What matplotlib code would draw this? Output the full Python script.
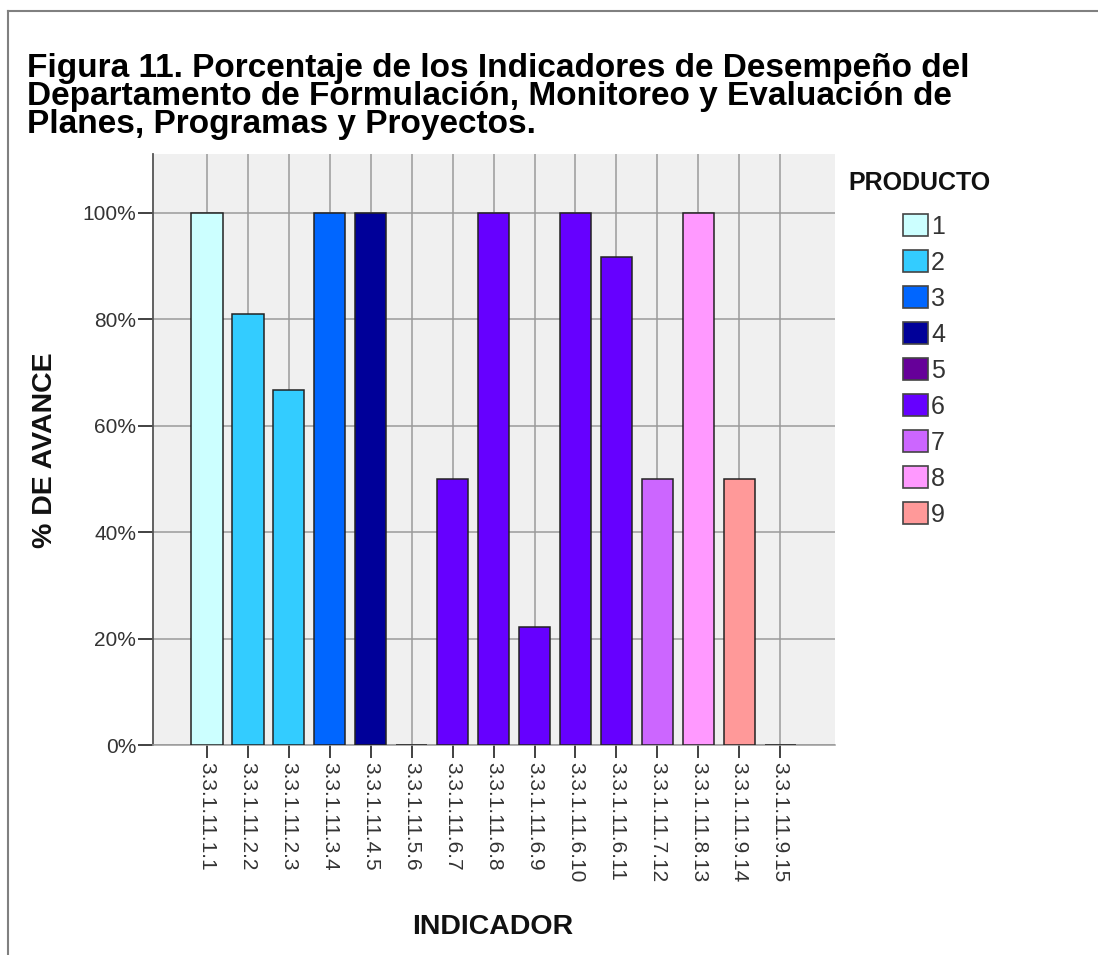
import matplotlib
matplotlib.use("Agg")
import matplotlib.pyplot as plt
from matplotlib.patches import Patch
from matplotlib.lines import Line2D

# ---- data ----
indicators = ["3.3.1.11.1.1", "3.3.1.11.2.2", "3.3.1.11.2.3", "3.3.1.11.3.4",
              "3.3.1.11.4.5", "3.3.1.11.5.6", "3.3.1.11.6.7", "3.3.1.11.6.8",
              "3.3.1.11.6.9", "3.3.1.11.6.10", "3.3.1.11.6.11", "3.3.1.11.7.12",
              "3.3.1.11.8.13", "3.3.1.11.9.14", "3.3.1.11.9.15"]
values = [100, 81, 66.7, 100, 100, 0, 50, 100, 22.2, 100, 91.7, 50, 100, 50, 0]
producto = [1, 2, 2, 3, 4, 5, 6, 6, 6, 6, 6, 7, 8, 9, 9]
product_labels = ["1", "2", "3", "4", "5", "6", "7", "8", "9"]
product_colors = ["#CCFFFF", "#33CCFF", "#0066FF", "#000099", "#660099",
                  "#6600FF", "#CC66FF", "#FF99FF", "#FF9999"]
yticks = [0, 20, 40, 60, 80, 100]
ytick_labels = ["0%", "20%", "40%", "60%", "80%", "100%"]

plt.rcParams['font.family'] = ['Liberation Sans', 'DejaVu Sans']

W, H = 1098, 955
fig = plt.figure(figsize=(W / 100, H / 100), dpi=100)
fig.patch.set_facecolor("white")

# axes placement
L, R, T, B = 153, 835, 154, 745
ax = fig.add_axes([L / W, 1 - B / H, (R - L) / W, (B - T) / H])
ax.set_facecolor("#F0F0F0")

x = list(range(len(indicators)))
colors = [product_colors[p - 1] for p in producto]
ax.bar(x, values, width=0.76, color=colors, edgecolor="#222222",
       linewidth=1.1, zorder=3)

ax.set_xlim(-1.32, 15.34)
ax.set_ylim(0, 111)
ax.set_yticks(yticks)
ax.set_yticklabels(ytick_labels)
ax.set_xticks(x)
ax.set_xticklabels(indicators, rotation=-90, va="top", ha="center")

ax.grid(True, color="#9A9A9A", linewidth=1.1, zorder=0)
ax.set_axisbelow(True)

for s in ["top", "right"]:
    ax.spines[s].set_visible(False)
ax.spines["left"].set_color("#555555")
ax.spines["left"].set_linewidth(1.3)
ax.spines["bottom"].set_color("#9A9A9A")
ax.spines["bottom"].set_linewidth(1.1)

ax.tick_params(axis="y", length=11, width=1.3, color="#333333",
               labelsize=15, labelcolor="#333333", pad=1)
ax.tick_params(axis="x", length=9.5, width=1.3, color="#333333",
               labelsize=15, labelcolor="#333333", pad=3)

# axis labels
fig.text(45 / W, 1 - 450 / H, "% DE AVANCE", rotation=90, fontsize=20.5,
         fontweight="bold", ha="center", va="center", color="#111111")
fig.text(493 / W, 1 - 927 / H, "INDICADOR", fontsize=20.5,
         fontweight="bold", ha="center", va="center", color="#111111")

# title
title_lines = ["Figura 11. Porcentaje de los Indicadores de Desempeño del",
               "Departamento de Formulación, Monitoreo y Evaluación de",
               "Planes, Programas y Proyectos."]
for i, line in enumerate(title_lines):
    fig.text(27 / W, 1 - (77 + 28 * i) / H, line, fontsize=24,
             fontweight="bold", ha="left", va="baseline", color="black")

# legend
fig.text(848 / W, 1 - 183 / H, "PRODUCTO", fontsize=18, fontweight="bold",
         ha="left", va="center", color="#111111")
handles = [Patch(facecolor=c, edgecolor="#444444", linewidth=1.2)
           for c in product_colors]
fig.legend(handles, product_labels, loc="upper left",
           bbox_to_anchor=(903 / W, 1 - 214 / H), frameon=False,
           fontsize=18, handlelength=1.0, handleheight=1.0,
           handletextpad=0.12, labelspacing=0.45, borderpad=0,
           borderaxespad=0, labelcolor="#333333")

# outer border lines (partial frame)
fig.add_artist(Line2D([8 / W, 1], [1 - 11 / H, 1 - 11 / H], color="#808080",
                      linewidth=1.5, transform=fig.transFigure))
fig.add_artist(Line2D([8 / W, 8 / W], [1 - 11 / H, 0], color="#808080",
                      linewidth=1.5, transform=fig.transFigure))

fig.savefig("out.png", dpi=100)
